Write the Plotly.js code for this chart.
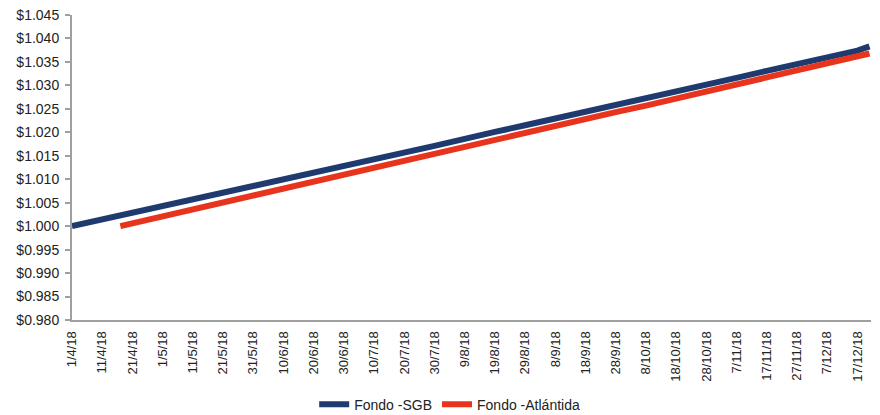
<!DOCTYPE html>
<html>
<head>
<meta charset="utf-8">
<script src="https://cdn.plot.ly/plotly-3.0.1.min.js"></script>
<style>html,body{margin:0;padding:0;background:#fff;}#chart{width:880px;height:415px;}</style>
</head>
<body>
<div id="chart"></div>
<script>
var sgbDates = ['2018-04-01','2018-04-11','2018-04-21','2018-05-01','2018-05-11','2018-05-21','2018-05-31','2018-06-10','2018-06-20','2018-06-30','2018-07-10','2018-07-20','2018-07-30','2018-08-09','2018-08-17','2018-08-19','2018-08-29','2018-09-08','2018-09-18','2018-09-28','2018-10-08','2018-10-18','2018-10-28','2018-11-07','2018-11-17','2018-11-27','2018-12-07','2018-12-17','2018-12-21'];
var sgbValues = [1.0000,1.0014,1.0028,1.0043,1.0057,1.0071,1.0086,1.0100,1.0114,1.0129,1.0143,1.0157,1.0171,1.0186,1.0196,1.0201,1.0215,1.0229,1.0244,1.0258,1.0273,1.0287,1.0302,1.0316,1.0331,1.0345,1.0359,1.0374,1.0383];

var atlDates = ['2018-04-17','2018-04-21','2018-05-01','2018-05-11','2018-05-21','2018-05-31','2018-06-10','2018-06-20','2018-06-30','2018-07-10','2018-07-20','2018-07-30','2018-08-09','2018-08-19','2018-08-29','2018-09-08','2018-09-18','2018-09-28','2018-10-08','2018-10-18','2018-10-28','2018-11-07','2018-11-17','2018-11-27','2018-12-07','2018-12-17','2018-12-21'];
var atlValues = [1.0000,1.0006,1.0021,1.0035,1.0050,1.0065,1.0080,1.0095,1.0109,1.0124,1.0139,1.0154,1.0169,1.0183,1.0198,1.0213,1.0228,1.0243,1.0257,1.0272,1.0287,1.0302,1.0317,1.0331,1.0346,1.0361,1.0368];

var seriesNames = ['Fondo -SGB', 'Fondo -Atlántida'];
var yTicks = [0.980,0.985,0.990,0.995,1.000,1.005,1.010,1.015,1.020,1.025,1.030,1.035,1.040,1.045];
var yTickText = yTicks.map(function(v){ return '$' + v.toFixed(3); });

var traces = [
  {x: sgbDates, y: sgbValues, name: seriesNames[0], type: 'scatter', mode: 'lines',
   line: {color: '#1f3a6e', width: 6}},
  {x: atlDates, y: atlValues, name: seriesNames[1], type: 'scatter', mode: 'lines',
   line: {color: '#e8341c', width: 6}}
];

var layout = {
  width: 880, height: 415,
  margin: {l: 72, r: 9, t: 15, b: 95, autoexpand: false},
  paper_bgcolor: '#fff', plot_bgcolor: '#fff',
  font: {family: 'Liberation Sans, Arial, sans-serif', size: 14, color: '#222'},
  showlegend: true,
  legend: {orientation: 'h', xref: 'container', yref: 'container', x: 0.511, xanchor: 'center',
           y: 0.025, yanchor: 'middle',
           font: {size: 14, color: '#222'}, itemwidth: 30, traceorder: 'normal'},
  xaxis: {
    type: 'date', automargin: false,
    range: ['2018-04-01', '2018-12-21 12:00'],
    tick0: '2018-04-01', dtick: 864000000,
    tickformat: '%-d/%-m/%y', tickangle: -90,
    showgrid: false, zeroline: false,
    showline: true, linecolor: '#a0a0a0', linewidth: 2,
    ticks: '', ticklabelstandoff: 4, tickfont: {size: 13, color: '#222'}
  },
  yaxis: {
    automargin: false,
    range: [0.980, 1.045],
    tickvals: yTicks, ticktext: yTickText,
    showgrid: false, zeroline: false,
    showline: true, linecolor: '#a0a0a0', linewidth: 2,
    ticks: 'outside', ticklen: 5, tickcolor: '#a0a0a0', tickwidth: 2,
    ticklabelstandoff: 3,
    tickfont: {size: 14, color: '#222'}
  }
};

Plotly.newPlot('chart', traces, layout, {displayModeBar: false, staticPlot: true});
</script>
</body>
</html>
